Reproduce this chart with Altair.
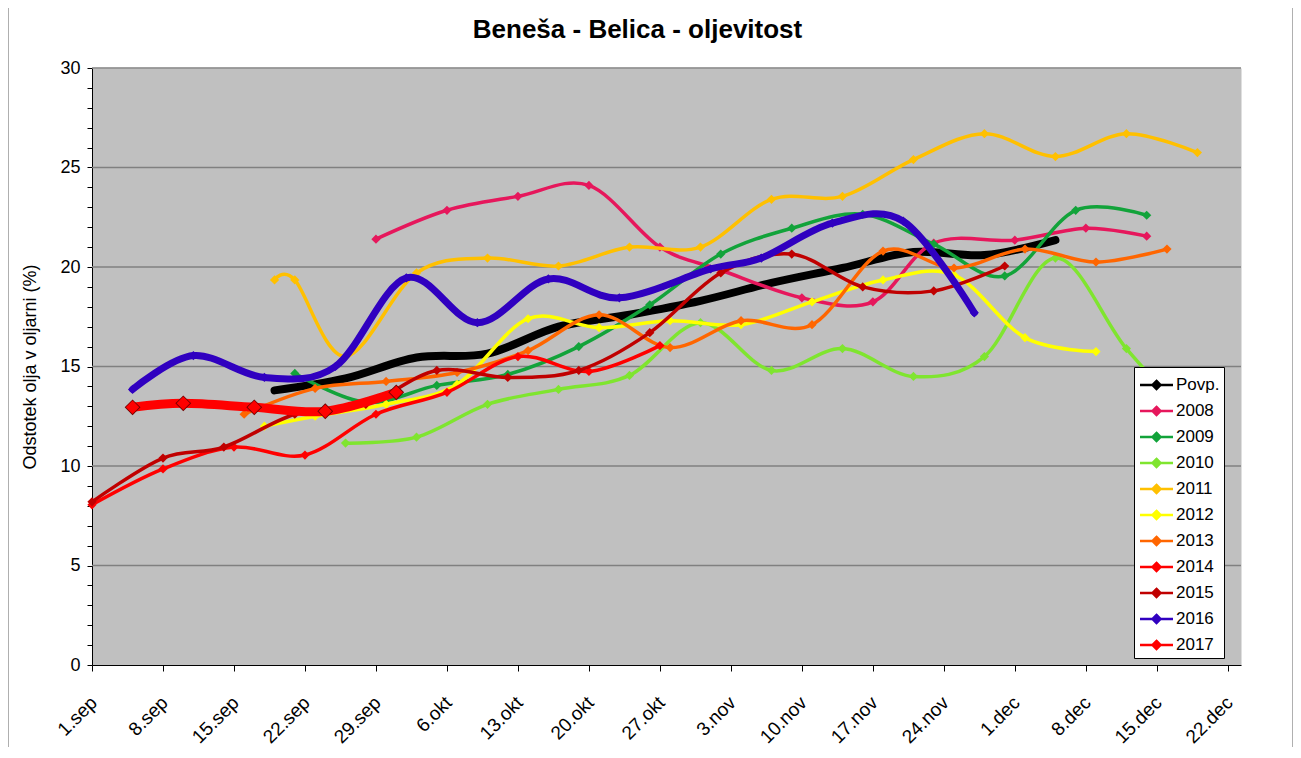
import altair as alt
import pandas as pd

# ---------------- data ----------------
TICK_LABELS = ["1.sep", "8.sep", "15.sep", "22.sep", "29.sep", "6.okt", "13.okt",
               "20.okt", "27.okt", "3.nov", "10.nov", "17.nov", "24.nov", "1.dec",
               "8.dec", "15.dec", "22.dec"]
GRID_VALUES = [5, 10, 15, 20, 25, 30]

SERIES = ["Povp.", "2008", "2009", "2010", "2011", "2012", "2013", "2014", "2015", "2016", "2017"]

povp_dates = ["09-19", "09-26", "10-03", "10-10", "10-17", "10-24", "10-31", "11-07", "11-14", "11-21", "11-28", "12-05"]
povp_vals = [13.8, 14.4, 15.45, 15.65, 17.0, 17.6, 18.3, 19.2, 19.95, 20.75, 20.6, 21.35]

y2008_dates = ["09-29", "10-06", "10-13", "10-20", "10-27", "11-02", "11-10", "11-17", "11-23", "12-01", "12-08", "12-14"]
y2008_vals = [21.4, 22.85, 23.55, 24.1, 21.0, 19.85, 18.45, 18.25, 21.2, 21.35, 21.95, 21.55]

y2009_dates = ["09-21", "09-28", "10-05", "10-12", "10-19", "10-26", "11-02", "11-09", "11-16", "11-23", "11-30", "12-07", "12-14"]
y2009_vals = [14.65, 13.2, 14.05, 14.6, 16.0, 18.1, 20.65, 21.95, 22.65, 21.15, 19.55, 22.85, 22.6]

y2010_dates = ["09-26", "10-03", "10-10", "10-17", "10-24", "10-31", "11-07", "11-14", "11-21", "11-28", "12-05", "12-12", "12-19"]
y2010_vals = [11.15, 11.45, 13.1, 13.85, 14.55, 17.2, 14.8, 15.9, 14.5, 15.5, 20.45, 15.9, 12.0]

y2011_dates = ["09-19", "09-21", "09-26", "10-03", "10-10", "10-17", "10-24", "10-31", "11-07", "11-14", "11-21", "11-28", "12-05", "12-12", "12-19"]
y2011_vals = [19.35, 19.35, 15.5, 19.7, 20.45, 20.05, 21.0, 21.0, 23.4, 23.55, 25.4, 26.7, 25.55, 26.7, 25.75]

y2012_dates = ["09-18", "09-23", "09-30", "10-07", "10-14", "10-21", "10-28", "11-04", "11-11", "11-18", "11-25", "12-02", "12-09"]
y2012_vals = [12.0, 12.5, 13.1, 14.1, 17.4, 16.95, 17.3, 17.1, 18.25, 19.35, 19.6, 16.45, 15.75]

y2013_dates = ["09-16", "09-23", "09-30", "10-07", "10-14", "10-21", "10-28", "11-04", "11-11", "11-18", "11-25", "12-02", "12-09", "12-16"]
y2013_vals = [12.6, 13.9, 14.25, 14.7, 15.8, 17.6, 15.95, 17.3, 17.1, 20.8, 19.95, 20.9, 20.25, 20.9]

y2014_dates = ["09-01", "09-08", "09-15", "09-22", "09-29", "10-06", "10-13", "10-20", "10-27"]
y2014_vals = [8.05, 9.85, 10.95, 10.55, 12.6, 13.7, 15.5, 14.75, 16.05]

y2015_dates = ["09-01", "09-08", "09-14", "09-21", "09-28", "10-05", "10-12", "10-19", "10-26", "11-02", "11-09", "11-16", "11-23", "11-30"]
y2015_vals = [8.2, 10.4, 10.95, 12.6, 13.1, 14.8, 14.45, 14.8, 16.7, 19.7, 20.65, 19.0, 18.8, 20.05]

y2016_dates = ["09-05", "09-11", "09-18", "09-25", "10-02", "10-09", "10-16", "10-23", "11-01", "11-06", "11-13", "11-20", "11-27"]
y2016_vals = [13.85, 15.55, 14.45, 15.0, 19.45, 17.2, 19.4, 18.45, 19.9, 20.45, 22.2, 22.3, 17.7]

y2017_dates = ["09-05", "09-10", "09-17", "09-24", "10-01"]
y2017_vals = [12.95, 13.15, 12.95, 12.75, 13.7]

DATES = [povp_dates, y2008_dates, y2009_dates, y2010_dates, y2011_dates, y2012_dates,
         y2013_dates, y2014_dates, y2015_dates, y2016_dates, y2017_dates]
VALUES = [povp_vals, y2008_vals, y2009_vals, y2010_vals, y2011_vals, y2012_vals,
          y2013_vals, y2014_vals, y2015_vals, y2016_vals, y2017_vals]

# ---------------- styles ----------------
COLORS = ["#000000", "#E6175C", "#12A33A", "#7FE52F", "#FFC000", "#FFFF00",
          "#FF6600", "#FF0000", "#C00000", "#3000C0", "#FF0000"]
WIDTHS = [8, 3.5, 3.5, 3.5, 3.5, 3.5, 3.5, 3.5, 3.5, 7, 9]
FONT = "Liberation Sans"

base = pd.Timestamp("2017-09-01")
rows = []
for name, ds, vs in zip(SERIES, DATES, VALUES):
    for d, v in zip(ds, vs):
        rows.append({"series": name,
                     "day": (pd.Timestamp("2017-" + d) - base).days,
                     "value": v})
df = pd.DataFrame(rows)
grid_df = pd.DataFrame({"value": GRID_VALUES})

label_expr = "[" + ",".join("'" + t + "'" for t in TICK_LABELS) + "][round(datum.value / 7)]"

x_scale = alt.Scale(domain=[0, 113.3], nice=False, zero=False)
y_scale = alt.Scale(domain=[0, 30], nice=False)

x_axis = alt.Axis(values=[7 * i for i in range(len(TICK_LABELS))], labelExpr=label_expr,
                  labelAngle=315, labelAlign="right", labelBaseline="top",
                  labelPadding=22, labelOffset=-5, tickSize=6, tickColor="black",
                  domainColor="black", labelFontSize=19, labelColor="black",
                  labelFont=FONT, grid=False, title=None, labelOverlap=False,
                  labelFlush=False)
y_axis = alt.Axis(values=list(range(31)),
                  labelExpr="datum.value % 5 == 0 ? datum.label : ''",
                  tickSize=5, labelPadding=7, labelFontSize=18, labelFont=FONT,
                  labelColor="black", grid=False, title="Odstotek olja v oljarni (%)",
                  titleFontSize=18, titleFont=FONT, titleFontWeight="normal",
                  titleColor="black", titleX=-62, titleY=298.5, titleBaseline="middle",
                  titleAngle=270, labelOverlap=False, labelFlush=False,
                  domainColor="black", tickColor="black")

stroke_scale = alt.Scale(domain=SERIES, range=COLORS)
fill_scale = alt.Scale(domain=SERIES, range=COLORS)

LEG_PATH = "M-0.96,0L1.68,0M0.36,-0.32L0.68,0L0.36,0.32L0.04,0Z"
legend = alt.Legend(title=None, orient="none", legendX=1042, legendY=299,
                    fillColor="white", strokeColor="black", padding=4,
                    symbolType=LEG_PATH, symbolSize=625, symbolStrokeWidth=2.5,
                    labelFontSize=17, labelFont=FONT, labelColor="black",
                    labelOffset=10, rowPadding=3, cornerRadius=0)

X = alt.X("day:Q", scale=x_scale, axis=x_axis)
Y = alt.Y("value:Q", scale=y_scale, axis=y_axis)

layers = []
layers.append(alt.Chart(grid_df).mark_rule(color="#808080", strokeWidth=1.5).encode(y=Y))

for i, name in enumerate(SERIES):
    sub = alt.Chart(df).transform_filter(alt.datum.series == name)
    layers.append(sub.mark_line(interpolate="cardinal", strokeWidth=WIDTHS[i],
                                strokeCap="round", strokeJoin="round").encode(
        x=X, y=Y, stroke=alt.Stroke("series:N", scale=stroke_scale, legend=legend)))
    if name == "Povp.":
        continue
    if name == "2017":
        layers.append(sub.mark_point(filled=True, shape="diamond", size=250,
                                     color="#700000", opacity=1).encode(x=X, y=Y))
        layers.append(sub.mark_point(filled=True, shape="diamond", size=180,
                                     opacity=1).encode(
            x=X, y=Y, fill=alt.Fill("series:N", scale=fill_scale, legend=legend)))
    else:
        layers.append(sub.mark_point(filled=True, shape="diamond", size=85,
                                     opacity=1).encode(
            x=X, y=Y, fill=alt.Fill("series:N", scale=fill_scale, legend=legend)))

# outer frame (left / right edges)
frame_df = pd.DataFrame({"k": [0]})
layers.append(alt.Chart(frame_df).mark_rule(color="#606060", strokeWidth=1).encode(
    x=alt.value(-84), y=alt.value(-60), y2=alt.value(700)))
layers.append(alt.Chart(frame_df).mark_rule(color="#606060", strokeWidth=1).encode(
    x=alt.value(1201), y=alt.value(-60), y2=alt.value(700)))

chart = alt.layer(*layers).properties(
    width=1149, height=597,
    title=alt.TitleParams(text="Beneša - Belica - oljevitost", fontSize=26,
                          fontWeight="bold", font=FONT, color="black",
                          anchor="middle", frame="group", dx=-29, offset=-56,
                          baseline="alphabetic"),
    autosize=alt.AutoSizeParams(type="none"),
    padding={"left": 84, "top": 60, "right": 52, "bottom": 82},
    background="white",
).configure_view(fill="#C0C0C0", stroke="transparent")

chart.save("out.html", embed_options={"renderer": "svg", "actions": False})
